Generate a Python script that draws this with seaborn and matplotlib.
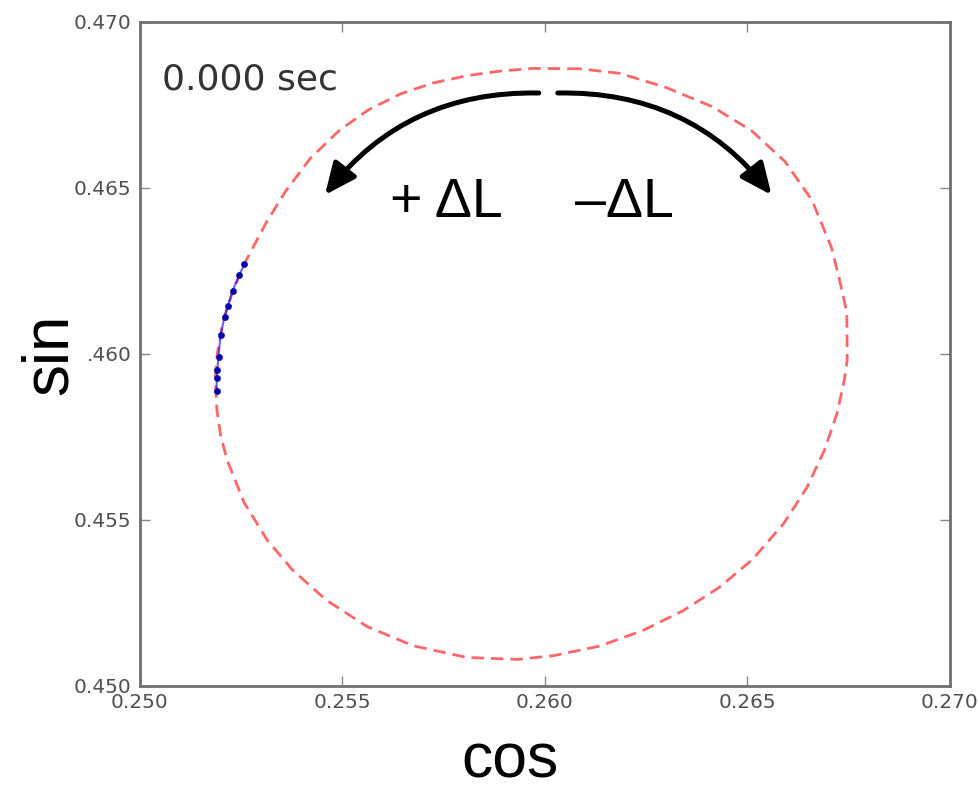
import matplotlib
matplotlib.use("Agg")
import matplotlib.pyplot as plt
import seaborn as sns

# red dashed loop (cos, sin)
loop_cos = [0.26086, 0.25970, 0.25889, 0.25807, 0.25723, 0.25643, 0.25564,
            0.25494, 0.25422, 0.25359, 0.25312, 0.25263, 0.25230, 0.25206,
            0.25191, 0.25186, 0.25190, 0.25199, 0.25215, 0.25257, 0.25314,
            0.25377, 0.25461, 0.25561, 0.25675, 0.25807, 0.25931, 0.26020,
            0.26135, 0.26242, 0.26342, 0.26432, 0.26513, 0.26590, 0.26648,
            0.26691, 0.26722, 0.26740, 0.26747, 0.26746, 0.26728, 0.26708,
            0.26660, 0.26593, 0.26511, 0.26415, 0.26301, 0.26186, 0.26086]
loop_sin = [0.46859, 0.46860, 0.46852, 0.46838, 0.46816, 0.46783, 0.46735,
            0.46675, 0.46591, 0.46489, 0.46396, 0.46284, 0.46192, 0.46102,
            0.46003, 0.45931, 0.45831, 0.45756, 0.45681, 0.45553, 0.45440,
            0.45349, 0.45258, 0.45179, 0.45121, 0.45086, 0.45080, 0.45091,
            0.45120, 0.45167, 0.45227, 0.45298, 0.45381, 0.45489, 0.45599,
            0.45711, 0.45822, 0.45922, 0.45982, 0.46125, 0.46223, 0.46321,
            0.46463, 0.46580, 0.46672, 0.46744, 0.46802, 0.46845, 0.46859]

# blue trajectory points
traj_cos = [0.25258, 0.25245, 0.25229, 0.25217, 0.25209,
            0.25199, 0.25194, 0.25191, 0.25190, 0.25189]
traj_sin = [0.46270, 0.46238, 0.46191, 0.46145, 0.46112,
            0.46057, 0.45992, 0.45952, 0.45927, 0.45889]

x_ticks = [0.250, 0.255, 0.260, 0.265, 0.270]
x_labels = ["0.250", "0.255", "0.260", "0.265", "0.270"]
y_ticks = [0.450, 0.455, 0.460, 0.465, 0.470]
y_labels = ["0.450", "0.455", ".460", "0.465", "0.470"]

sns.set_style("white")
plt.rcParams["font.family"] = ["DejaVu Sans"]

fig = plt.figure(figsize=(9.79, 8.01), dpi=100)
ax = fig.add_axes([0.143, 0.1436, 0.827, 0.829])

sns.lineplot(x=loop_cos, y=loop_sin, sort=False, estimator=None, ax=ax,
             color="red", alpha=0.6, lw=2, linestyle=(0, (4.5, 2.5)))
sns.lineplot(x=traj_cos, y=traj_sin, sort=False, estimator=None, ax=ax,
             color="blue", alpha=0.6, lw=1.5)
sns.scatterplot(x=traj_cos, y=traj_sin, ax=ax, color="#0000aa",
                s=20, edgecolor="#0000aa", zorder=3)

ax.set_xlim(0.250, 0.270)
ax.set_ylim(0.450, 0.470)
ax.set_xticks(x_ticks)
ax.set_xticklabels(x_labels)
ax.set_yticks(y_ticks)
ax.set_yticklabels(y_labels)
ax.tick_params(direction="in", length=7, width=1, color="#888888",
               labelsize=14.5, labelcolor="#505050",
               top=True, right=True, bottom=True, left=True)
ax.tick_params(axis="x", pad=5)
ax.tick_params(axis="y", pad=6)
for sp in ax.spines.values():
    sp.set_color("#707070")
    sp.set_linewidth(2)

# arrows
head = "-|>,head_length=1.9,head_width=0.85"
ax.annotate("", xy=(0.25457, 0.46479), xytext=(0.25985, 0.46786),
            arrowprops=dict(arrowstyle=head, color="black", lw=3.6,
                            shrinkA=0, shrinkB=0,
                            connectionstyle="arc3,rad=0.25"))
ax.annotate("", xy=(0.26560, 0.46479), xytext=(0.26032, 0.46786),
            arrowprops=dict(arrowstyle=head, color="black", lw=3.6,
                            shrinkA=0, shrinkB=0,
                            connectionstyle="arc3,rad=-0.25"))

ax.text(0.25756, 0.46413, "+ ΔL", fontsize=40, ha="center", va="baseline",
        family="Liberation Sans", color="black")
ax.text(0.26196, 0.46413, "\u2013ΔL", fontsize=40, ha="center", va="baseline",
        family="Liberation Sans", color="black")

ax.text(0.027, 0.914, "0.000 sec", transform=ax.transAxes, fontsize=26,
        color="#333333", ha="left", va="center")

ax.set_xlabel("cos", fontsize=45, family="Liberation Sans", color="black")
ax.set_ylabel("sin", fontsize=46, family="Liberation Sans", color="black")
ax.xaxis.set_label_coords(0.457, -0.068)
ax.yaxis.set_label_coords(-0.075, 0.5)

fig.savefig("out.png", dpi=100)
